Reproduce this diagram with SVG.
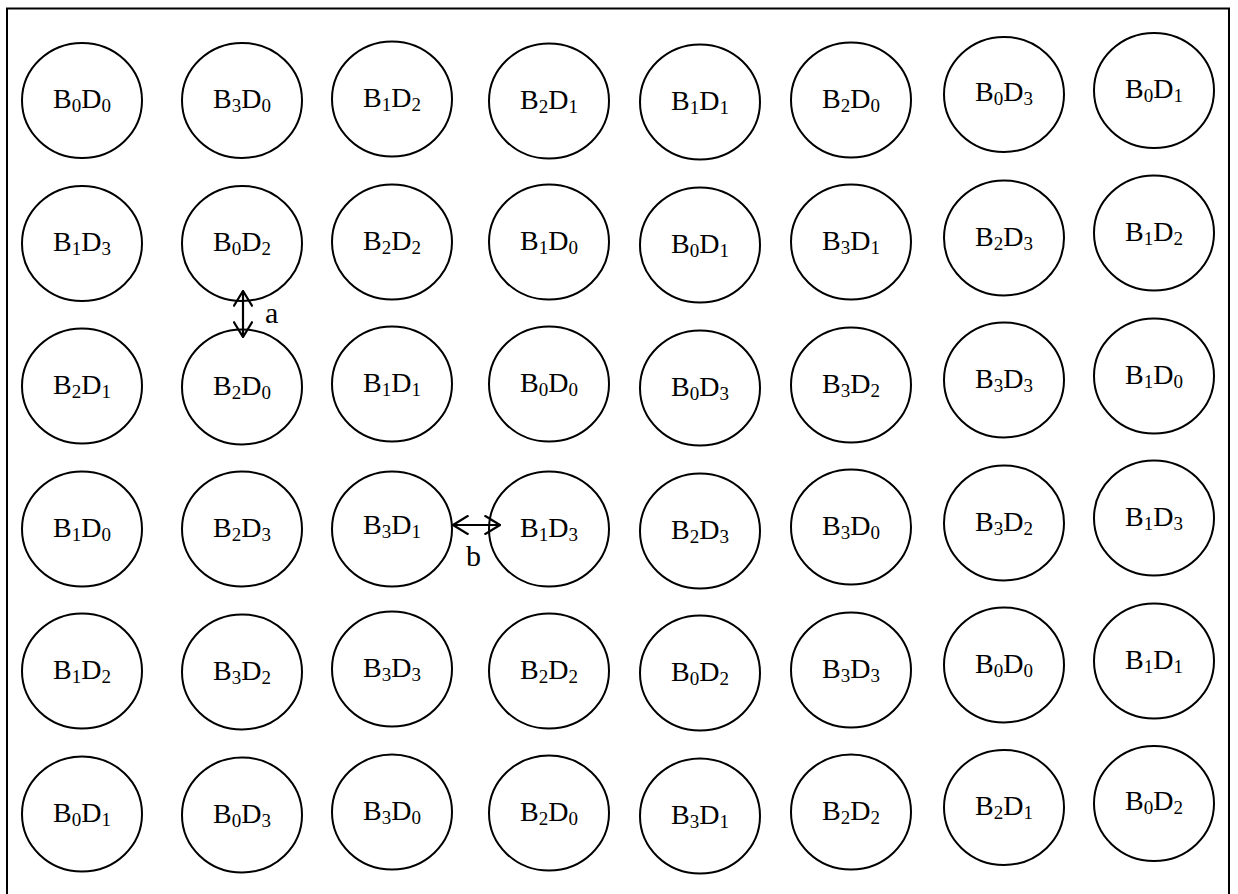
<svg xmlns="http://www.w3.org/2000/svg" width="1238" height="894" viewBox="0 0 1238 894">
<style>
.n ellipse{fill:#fff;stroke:#000;stroke-width:2}
.n text{font-family:"Liberation Serif","Times New Roman",serif;font-size:28px;fill:#000;text-anchor:middle}
.s{font-size:19px}
.lbl{font-family:"Liberation Serif","Times New Roman",serif;font-size:30px;fill:#000}
.c line{stroke:#000;stroke-width:2.2;marker-start:url(#ah);marker-end:url(#ah)}
</style>
<defs>
<marker id="ah" viewBox="0 0 17 20" refX="16" refY="10" markerWidth="17" markerHeight="20" markerUnits="userSpaceOnUse" orient="auto-start-reverse">
<path d="M0.5,0.5 L16,10 L0.5,19.5" fill="none" stroke="#000" stroke-width="2.2"/>
</marker>
</defs>
<rect x="0" y="0" width="1238" height="894" fill="#fff"/>
<rect x="7" y="8.5" width="1222" height="900" fill="none" stroke="#000" stroke-width="2"/>

<g id="r0c0" class="n"><ellipse cx="82" cy="100.5" rx="60" ry="57.5"/><text x="82" y="108">B<tspan class="s" dy="4.4">0</tspan><tspan dy="-4.4">D</tspan><tspan class="s" dy="4.4">0</tspan></text></g>
<g id="r0c1" class="n"><ellipse cx="242" cy="100.5" rx="60" ry="57.5"/><text x="242" y="108">B<tspan class="s" dy="4.4">3</tspan><tspan dy="-4.4">D</tspan><tspan class="s" dy="4.4">0</tspan></text></g>
<g id="r0c2" class="n"><ellipse cx="392" cy="99" rx="60" ry="57.5"/><text x="392" y="106.5">B<tspan class="s" dy="4.4">1</tspan><tspan dy="-4.4">D</tspan><tspan class="s" dy="4.4">2</tspan></text></g>
<g id="r0c3" class="n"><ellipse cx="549" cy="101" rx="60" ry="57.5"/><text x="549" y="108.5">B<tspan class="s" dy="4.4">2</tspan><tspan dy="-4.4">D</tspan><tspan class="s" dy="4.4">1</tspan></text></g>
<g id="r0c4" class="n"><ellipse cx="700" cy="102" rx="60" ry="57.5"/><text x="700" y="109.5">B<tspan class="s" dy="4.4">1</tspan><tspan dy="-4.4">D</tspan><tspan class="s" dy="4.4">1</tspan></text></g>
<g id="r0c5" class="n"><ellipse cx="851" cy="100" rx="60" ry="57.5"/><text x="851" y="107.5">B<tspan class="s" dy="4.4">2</tspan><tspan dy="-4.4">D</tspan><tspan class="s" dy="4.4">0</tspan></text></g>
<g id="r0c6" class="n"><ellipse cx="1004" cy="94.5" rx="60" ry="57.5"/><text x="1004" y="101">B<tspan class="s" dy="4.4">0</tspan><tspan dy="-4.4">D</tspan><tspan class="s" dy="4.4">3</tspan></text></g>
<g id="r0c7" class="n"><ellipse cx="1154" cy="90.5" rx="60" ry="57.5"/><text x="1154" y="98">B<tspan class="s" dy="4.4">0</tspan><tspan dy="-4.4">D</tspan><tspan class="s" dy="4.4">1</tspan></text></g>

<g id="r1c0" class="n"><ellipse cx="82" cy="243.5" rx="60" ry="57.5"/><text x="82" y="251">B<tspan class="s" dy="4.4">1</tspan><tspan dy="-4.4">D</tspan><tspan class="s" dy="4.4">3</tspan></text></g>
<g id="r1c1" class="n"><ellipse cx="242" cy="243.5" rx="60" ry="57.5"/><text x="242" y="251">B<tspan class="s" dy="4.4">0</tspan><tspan dy="-4.4">D</tspan><tspan class="s" dy="4.4">2</tspan></text></g>
<g id="r1c2" class="n"><ellipse cx="392" cy="242" rx="60" ry="57.5"/><text x="392" y="249.5">B<tspan class="s" dy="4.4">2</tspan><tspan dy="-4.4">D</tspan><tspan class="s" dy="4.4">2</tspan></text></g>
<g id="r1c3" class="n"><ellipse cx="549" cy="242" rx="60" ry="57.5"/><text x="549" y="249.5">B<tspan class="s" dy="4.4">1</tspan><tspan dy="-4.4">D</tspan><tspan class="s" dy="4.4">0</tspan></text></g>
<g id="r1c4" class="n"><ellipse cx="700" cy="245" rx="60" ry="57.5"/><text x="700" y="252.5">B<tspan class="s" dy="4.4">0</tspan><tspan dy="-4.4">D</tspan><tspan class="s" dy="4.4">1</tspan></text></g>
<g id="r1c5" class="n"><ellipse cx="851" cy="242" rx="60" ry="57.5"/><text x="851" y="249.5">B<tspan class="s" dy="4.4">3</tspan><tspan dy="-4.4">D</tspan><tspan class="s" dy="4.4">1</tspan></text></g>
<g id="r1c6" class="n"><ellipse cx="1004" cy="238" rx="60" ry="57.5"/><text x="1004" y="245.5">B<tspan class="s" dy="4.4">2</tspan><tspan dy="-4.4">D</tspan><tspan class="s" dy="4.4">3</tspan></text></g>
<g id="r1c7" class="n"><ellipse cx="1154" cy="233" rx="60" ry="57.5"/><text x="1154" y="240.5">B<tspan class="s" dy="4.4">1</tspan><tspan dy="-4.4">D</tspan><tspan class="s" dy="4.4">2</tspan></text></g>

<g id="r2c0" class="n"><ellipse cx="82" cy="386" rx="60" ry="57.5"/><text x="82" y="393.5">B<tspan class="s" dy="4.4">2</tspan><tspan dy="-4.4">D</tspan><tspan class="s" dy="4.4">1</tspan></text></g>
<g id="r2c1" class="n"><ellipse cx="242" cy="387" rx="60" ry="57.5"/><text x="242" y="394.5">B<tspan class="s" dy="4.4">2</tspan><tspan dy="-4.4">D</tspan><tspan class="s" dy="4.4">0</tspan></text></g>
<g id="r2c2" class="n"><ellipse cx="392" cy="384" rx="60" ry="57.5"/><text x="392" y="391.5">B<tspan class="s" dy="4.4">1</tspan><tspan dy="-4.4">D</tspan><tspan class="s" dy="4.4">1</tspan></text></g>
<g id="r2c3" class="n"><ellipse cx="549" cy="384" rx="60" ry="57.5"/><text x="549" y="391.5">B<tspan class="s" dy="4.4">0</tspan><tspan dy="-4.4">D</tspan><tspan class="s" dy="4.4">0</tspan></text></g>
<g id="r2c4" class="n"><ellipse cx="700" cy="388" rx="60" ry="57.5"/><text x="700" y="395.5">B<tspan class="s" dy="4.4">0</tspan><tspan dy="-4.4">D</tspan><tspan class="s" dy="4.4">3</tspan></text></g>
<g id="r2c5" class="n"><ellipse cx="851" cy="385" rx="60" ry="57.5"/><text x="851" y="392.5">B<tspan class="s" dy="4.4">3</tspan><tspan dy="-4.4">D</tspan><tspan class="s" dy="4.4">2</tspan></text></g>
<g id="r2c6" class="n"><ellipse cx="1004" cy="380" rx="60" ry="57.5"/><text x="1004" y="387.5">B<tspan class="s" dy="4.4">3</tspan><tspan dy="-4.4">D</tspan><tspan class="s" dy="4.4">3</tspan></text></g>
<g id="r2c7" class="n"><ellipse cx="1154" cy="376" rx="60" ry="57.5"/><text x="1154" y="383.5">B<tspan class="s" dy="4.4">1</tspan><tspan dy="-4.4">D</tspan><tspan class="s" dy="4.4">0</tspan></text></g>

<g id="r3c0" class="n"><ellipse cx="82" cy="529" rx="60" ry="57.5"/><text x="82" y="536.5">B<tspan class="s" dy="4.4">1</tspan><tspan dy="-4.4">D</tspan><tspan class="s" dy="4.4">0</tspan></text></g>
<g id="r3c1" class="n"><ellipse cx="242" cy="529" rx="60" ry="57.5"/><text x="242" y="536.5">B<tspan class="s" dy="4.4">2</tspan><tspan dy="-4.4">D</tspan><tspan class="s" dy="4.4">3</tspan></text></g>
<g id="r3c2" class="n"><ellipse cx="392" cy="529" rx="60" ry="57.5"/><text x="392" y="534">B<tspan class="s" dy="4.4">3</tspan><tspan dy="-4.4">D</tspan><tspan class="s" dy="4.4">1</tspan></text></g>
<g id="r3c3" class="n"><ellipse cx="549" cy="529" rx="60" ry="57.5"/><text x="549" y="536.5">B<tspan class="s" dy="4.4">1</tspan><tspan dy="-4.4">D</tspan><tspan class="s" dy="4.4">3</tspan></text></g>
<g id="r3c4" class="n"><ellipse cx="700" cy="531" rx="60" ry="57.5"/><text x="700" y="538.5">B<tspan class="s" dy="4.4">2</tspan><tspan dy="-4.4">D</tspan><tspan class="s" dy="4.4">3</tspan></text></g>
<g id="r3c5" class="n"><ellipse cx="851" cy="527" rx="60" ry="57.5"/><text x="851" y="534.5">B<tspan class="s" dy="4.4">3</tspan><tspan dy="-4.4">D</tspan><tspan class="s" dy="4.4">0</tspan></text></g>
<g id="r3c6" class="n"><ellipse cx="1004" cy="523" rx="60" ry="57.5"/><text x="1004" y="530.5">B<tspan class="s" dy="4.4">3</tspan><tspan dy="-4.4">D</tspan><tspan class="s" dy="4.4">2</tspan></text></g>
<g id="r3c7" class="n"><ellipse cx="1154" cy="518" rx="60" ry="57.5"/><text x="1154" y="525.5">B<tspan class="s" dy="4.4">1</tspan><tspan dy="-4.4">D</tspan><tspan class="s" dy="4.4">3</tspan></text></g>

<g id="r4c0" class="n"><ellipse cx="82" cy="671" rx="60" ry="57.5"/><text x="82" y="678.5">B<tspan class="s" dy="4.4">1</tspan><tspan dy="-4.4">D</tspan><tspan class="s" dy="4.4">2</tspan></text></g>
<g id="r4c1" class="n"><ellipse cx="242" cy="672" rx="60" ry="57.5"/><text x="242" y="679.5">B<tspan class="s" dy="4.4">3</tspan><tspan dy="-4.4">D</tspan><tspan class="s" dy="4.4">2</tspan></text></g>
<g id="r4c2" class="n"><ellipse cx="392" cy="669" rx="60" ry="57.5"/><text x="392" y="676.5">B<tspan class="s" dy="4.4">3</tspan><tspan dy="-4.4">D</tspan><tspan class="s" dy="4.4">3</tspan></text></g>
<g id="r4c3" class="n"><ellipse cx="549" cy="671" rx="60" ry="57.5"/><text x="549" y="678.5">B<tspan class="s" dy="4.4">2</tspan><tspan dy="-4.4">D</tspan><tspan class="s" dy="4.4">2</tspan></text></g>
<g id="r4c4" class="n"><ellipse cx="700" cy="673" rx="60" ry="57.5"/><text x="700" y="680.5">B<tspan class="s" dy="4.4">0</tspan><tspan dy="-4.4">D</tspan><tspan class="s" dy="4.4">2</tspan></text></g>
<g id="r4c5" class="n"><ellipse cx="851" cy="670" rx="60" ry="57.5"/><text x="851" y="677.5">B<tspan class="s" dy="4.4">3</tspan><tspan dy="-4.4">D</tspan><tspan class="s" dy="4.4">3</tspan></text></g>
<g id="r4c6" class="n"><ellipse cx="1004" cy="665" rx="60" ry="57.5"/><text x="1004" y="672.5">B<tspan class="s" dy="4.4">0</tspan><tspan dy="-4.4">D</tspan><tspan class="s" dy="4.4">0</tspan></text></g>
<g id="r4c7" class="n"><ellipse cx="1154" cy="661" rx="60" ry="57.5"/><text x="1154" y="668.5">B<tspan class="s" dy="4.4">1</tspan><tspan dy="-4.4">D</tspan><tspan class="s" dy="4.4">1</tspan></text></g>

<g id="r5c0" class="n"><ellipse cx="82" cy="814" rx="60" ry="57.5"/><text x="82" y="821.5">B<tspan class="s" dy="4.4">0</tspan><tspan dy="-4.4">D</tspan><tspan class="s" dy="4.4">1</tspan></text></g>
<g id="r5c1" class="n"><ellipse cx="242" cy="815" rx="60" ry="57.5"/><text x="242" y="822.5">B<tspan class="s" dy="4.4">0</tspan><tspan dy="-4.4">D</tspan><tspan class="s" dy="4.4">3</tspan></text></g>
<g id="r5c2" class="n"><ellipse cx="392" cy="812" rx="60" ry="57.5"/><text x="392" y="819.5">B<tspan class="s" dy="4.4">3</tspan><tspan dy="-4.4">D</tspan><tspan class="s" dy="4.4">0</tspan></text></g>
<g id="r5c3" class="n"><ellipse cx="549" cy="813" rx="60" ry="57.5"/><text x="549" y="820.5">B<tspan class="s" dy="4.4">2</tspan><tspan dy="-4.4">D</tspan><tspan class="s" dy="4.4">0</tspan></text></g>
<g id="r5c4" class="n"><ellipse cx="700" cy="816" rx="60" ry="57.5"/><text x="700" y="823.5">B<tspan class="s" dy="4.4">3</tspan><tspan dy="-4.4">D</tspan><tspan class="s" dy="4.4">1</tspan></text></g>
<g id="r5c5" class="n"><ellipse cx="851" cy="812" rx="60" ry="57.5"/><text x="851" y="819.5">B<tspan class="s" dy="4.4">2</tspan><tspan dy="-4.4">D</tspan><tspan class="s" dy="4.4">2</tspan></text></g>
<g id="r5c6" class="n"><ellipse cx="1004" cy="807.5" rx="60" ry="57.5"/><text x="1004" y="815">B<tspan class="s" dy="4.4">2</tspan><tspan dy="-4.4">D</tspan><tspan class="s" dy="4.4">1</tspan></text></g>
<g id="r5c7" class="n"><ellipse cx="1154" cy="803.5" rx="60" ry="57.5"/><text x="1154" y="810">B<tspan class="s" dy="4.4">0</tspan><tspan dy="-4.4">D</tspan><tspan class="s" dy="4.4">2</tspan></text></g>

<g id="connectors" class="c">
<line x1="243" y1="291" x2="243" y2="337"/>
<line x1="453" y1="525" x2="500" y2="525"/>
</g>
<text class="lbl" x="265" y="323">a</text>
<text class="lbl" x="466" y="566">b</text>
</svg>
